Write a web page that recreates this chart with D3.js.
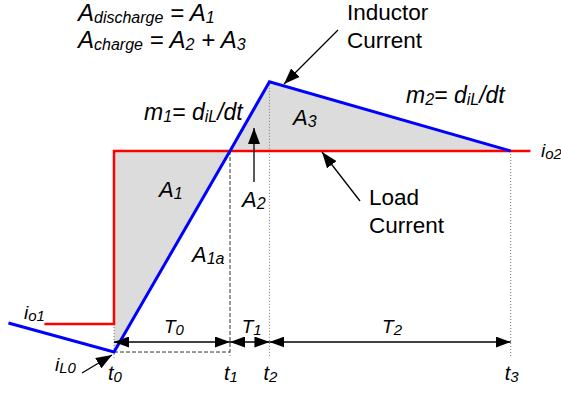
<!DOCTYPE html>
<html>
<head>
<meta charset="utf-8">
<script src="https://cdn.jsdelivr.net/npm/d3@7"></script>
<style>
  body { margin: 0; background: #fff; }
  svg text { font-family: "Liberation Sans", Arial, sans-serif; fill: #000; }
</style>
</head>
<body>
<div id="chart"></div>
<script>
// time axis: t0 = 0, current axis: io1 = 1, io2 = 2
const tickTimes = [0, 1, 1.34, 3.42];
const tickSubs = ["0", "1", "2", "3"];
const loadCurrent = [[-0.6, 1], [0, 1], [0, 2], [3.59, 2]];
const inductorCurrent = [[-0.91, 1.006], [0, 0.838], [1, 2], [1.34, 2.40], [3.42, 2]];
const dischargeArea = [[0, 2], [1, 2], [0, 0.838]];
const chargeArea = [[1, 2], [1.34, 2.40], [3.42, 2]];
const intervals = [[0, 1, "0"], [1, 1.34, "1"], [1.34, 3.42, "2"]];

const width = 561, height = 396;
const x = d3.scaleLinear().domain([0, 1]).range([114, 230]);
const y = d3.scaleLinear().domain([1, 2]).range([324, 151]);

const svg = d3.select("#chart").append("svg")
    .attr("width", width)
    .attr("height", height)
    .attr("viewBox", [0, 0, width, height]);

const defs = svg.append("defs");
function marker(id, len, wid) {
    defs.append("marker")
        .attr("id", id)
        .attr("markerUnits", "userSpaceOnUse")
        .attr("viewBox", `0 0 ${len} ${wid}`)
        .attr("refX", len).attr("refY", wid / 2)
        .attr("markerWidth", len).attr("markerHeight", wid)
        .attr("orient", "auto-start-reverse")
        .append("path")
        .attr("d", `M0,0L${len},${wid / 2}L0,${wid}Z`)
        .attr("fill", "#000");
}
marker("head", 15, 11);
marker("big", 16, 12);

const line = d3.line().x(d => x(d[0])).y(d => y(d[1]));

// shaded areas
svg.append("g").selectAll("path")
    .data([dischargeArea, chargeArea])
    .join("path")
    .attr("d", d => line(d) + "Z")
    .attr("fill", "#dcdcdc");

// guide lines
const peak = inductorCurrent[3][1];
const guides = svg.append("g").attr("fill", "none");
guides.append("line")
    .attr("x1", x(tickTimes[0])).attr("x2", x(tickTimes[0]))
    .attr("y1", y(1)).attr("y2", 358)
    .attr("stroke", "#777").attr("stroke-dasharray", "1,2");
guides.append("line")
    .attr("x1", x(tickTimes[2])).attr("x2", x(tickTimes[2]))
    .attr("y1", y(peak)).attr("y2", 358)
    .attr("stroke", "#777").attr("stroke-dasharray", "1,2");
guides.append("line")
    .attr("x1", x(tickTimes[3])).attr("x2", x(tickTimes[3]))
    .attr("y1", y(2)).attr("y2", 358)
    .attr("stroke", "#777").attr("stroke-dasharray", "1,2");
guides.append("line")
    .attr("x1", x(tickTimes[1])).attr("x2", x(tickTimes[1]))
    .attr("y1", y(2)).attr("y2", y(0.838))
    .attr("stroke", "#333").attr("stroke-dasharray", "4,2");
guides.append("line")
    .attr("x1", x(tickTimes[1])).attr("x2", x(tickTimes[1]))
    .attr("y1", y(0.838)).attr("y2", 358)
    .attr("stroke", "#777").attr("stroke-dasharray", "1,2");
guides.append("line")
    .attr("x1", x(tickTimes[0])).attr("x2", x(tickTimes[1]))
    .attr("y1", y(0.838)).attr("y2", y(0.838))
    .attr("stroke", "#333").attr("stroke-dasharray", "4,2");

// currents
svg.append("path").datum(loadCurrent)
    .attr("d", line).attr("fill", "none")
    .attr("stroke", "#ff0000").attr("stroke-width", 2.5);
svg.append("path").datum(inductorCurrent)
    .attr("d", line).attr("fill", "none")
    .attr("stroke", "#0000ff").attr("stroke-width", 3)
    .attr("stroke-linejoin", "miter");

// interval arrows
const arrowY = 342;
const iv = svg.append("g");
iv.selectAll("line")
    .data(intervals)
    .join("line")
    .attr("x1", d => x(d[0])).attr("x2", d => x(d[1]))
    .attr("y1", arrowY).attr("y2", arrowY)
    .attr("stroke", "#000").attr("stroke-width", 1.3)
    .attr("marker-start", "url(#head)")
    .attr("marker-end", "url(#head)");

function sub(sel, base, s, size, dy) {
    sel.append("tspan").text(base);
    sel.append("tspan").attr("font-size", size).attr("dy", dy).text(s);
}

iv.selectAll("text")
    .data(intervals)
    .join("text")
    .attr("x", d => (x(d[0]) + x(d[1])) / 2 - 8)
    .attr("y", 333)
    .attr("font-size", 19).attr("font-style", "italic")
    .each(function (d) { sub(d3.select(this), "T", d[2], 15, 2); });

// time ticks
svg.append("g").selectAll("text")
    .data(tickTimes)
    .join("text")
    .attr("x", d => x(d) - 6)
    .attr("y", 380)
    .attr("font-size", 20).attr("font-style", "italic")
    .each(function (d, i) { sub(d3.select(this), "t", tickSubs[i], 15, 2); });

// labels
function label(px, py, size, parts, style) {
    const t = svg.append("text").attr("x", px).attr("y", py)
        .attr("font-size", size);
    if (style !== false) t.attr("font-style", "italic");
    parts.forEach(p => {
        const s = t.append("tspan").text(p[0]);
        if (p[1]) s.attr("font-size", p[1]);
        if (p[2]) s.attr("dy", p[2]);
    });
    return t;
}

label(78, 21, 24, [["A"], ["discharge", 16, 2], [" = A", null, -2], ["1", 16, 2]]);
label(78, 48, 24, [["A"], ["charge", 16, 2], [" = A", null, -2], ["2", 16, 2], [" + A", null, -2], ["3", 16, 2]]);
label(144, 120, 23, [["m"], ["1", 16, 2], ["= d", null, -2], ["iL", 16, 2], ["/dt", null, -2]]);
label(406, 103, 23, [["m"], ["2", 16, 2], ["= d", null, -2], ["iL", 16, 2], ["/dt", null, -2]]);
label(159, 197, 22, [["A"], ["1", 16, 2]]);
label(192, 262, 22, [["A"], ["1a", 16, 2]]);
label(242, 207, 22, [["A"], ["2", 16, 2]]);
label(293, 125, 22, [["A"], ["3", 16, 2]]);
label(24, 319, 19, [["i"], ["o1", 15, 2]]);
label(541, 157, 19, [["i"], ["o2", 15, 2]]);
label(55, 371, 19, [["i"], ["L0", 15, 2]]);

label(347, 20, 22.5, [["Inductor"]], false);
label(347, 48, 22.5, [["Current"]], false);
label(369, 205, 22.5, [["Load"]], false);
label(369, 233, 22.5, [["Current"]], false);

// pointer arrows
const pointers = [
    [[338, 30], [284, 84]],
    [[360, 201], [322, 152]],
    [[82, 373], [112, 355]],
    [[254, 182], [254, 128]]
];
svg.append("g").selectAll("line")
    .data(pointers)
    .join("line")
    .attr("x1", d => d[0][0]).attr("y1", d => d[0][1])
    .attr("x2", d => d[1][0]).attr("y2", d => d[1][1])
    .attr("stroke", "#000").attr("stroke-width", 1.3)
    .attr("marker-end", "url(#big)");
</script>
</body>
</html>
